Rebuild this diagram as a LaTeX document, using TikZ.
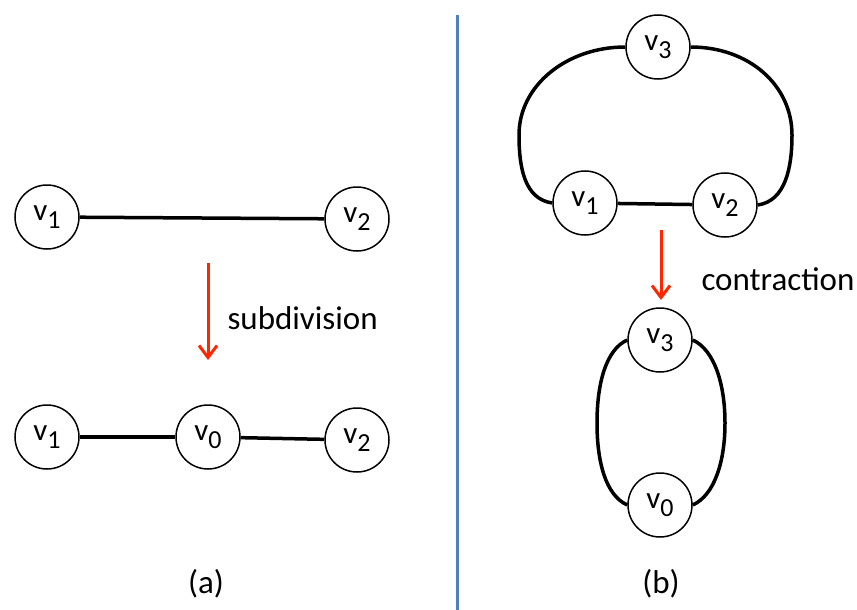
\documentclass[tikz,border=0pt]{standalone}
\usepackage{fontspec}
\setmainfont{Carlito}
\usetikzlibrary{arrows.meta}
\usepackage{xcolor}
\definecolor{arrowred}{RGB}{255,38,0}
\definecolor{divblue}{RGB}{79,129,189}
\newcommand{\vtx}[1]{v\raisebox{-8pt}{\fontsize{26}{26}\selectfont #1}}

\begin{document}
\begin{tikzpicture}[x=1pt, y=-1pt,
  vertex/.style={circle, draw, line width=1.5pt, minimum size=64pt, inner sep=0pt, fill=white, font=\fontsize{31}{33}\selectfont},
  edge/.style={line width=3.5pt},
  morph/.style={arrowred, line width=3pt, -{Straight Barb[length=12pt,width=18pt]}},
  caption/.style={font=\fontsize{33}{38}\selectfont},
]
  \useasboundingbox (0,0) rectangle (857,610);

  % (a) subdivision
  \node[vertex] (a1) at (47,217)  {\vtx{1}};
  \node[vertex] (a2) at (357,219) {\vtx{2}};
  \node[vertex] (s1) at (47,437)  {\vtx{1}};
  \node[vertex] (s0) at (208,437) {\vtx{0}};
  \node[vertex] (s2) at (357,440) {\vtx{2}};
  \draw[edge] (a1) -- (a2);
  \draw[edge] (s1) -- (s0);
  \draw[edge] (s0) -- (s2);

  \coordinate (subtop) at (208,263);
  \coordinate (subbot) at (208,360);
  \draw[morph] (subtop) -- (subbot);
  \node[caption, anchor=west] (sublab) at (224,318) {subdivision};
  \node[caption] (capa) at (206,584) {(a)};

  % divider
  \coordinate (divtop) at (457,15);
  \coordinate (divbot) at (457,610);
  \draw[divblue, line width=3pt] (divtop) -- (divbot);

  % (b) contraction
  \node[vertex] (b3) at (658,47)  {\vtx{3}};
  \node[vertex] (b1) at (585,203) {\vtx{1}};
  \node[vertex] (b2) at (725,205) {\vtx{2}};
  \draw[edge] (b1) -- (b2);
  \draw[edge] (b1.west) .. controls +(-28,-4) and +(0,32) .. (519,135)
                        .. controls +(0,-50) and +(-58,0) .. (b3.west);
  \draw[edge] (b2.east) .. controls +(28,-4) and +(0,32) .. (792,135)
                        .. controls +(0,-50) and +(58,0) .. (b3.east);

  \coordinate (contop) at (661,230);
  \coordinate (conbot) at (661,300);
  \draw[morph] (contop) -- (conbot);
  \node[caption, anchor=west] (conlab) at (698,279) {contraction};

  \node[vertex] (c3) at (660,340) {\vtx{3}};
  \node[vertex] (c0) at (660,505) {\vtx{0}};
  \draw[edge] (c3.west) .. controls +(-22,10) and +(0,-38) .. (597,423)
                        .. controls +(0,38) and +(-22,-10) .. (c0.west);
  \draw[edge] (c3.east) .. controls +(22,10) and +(0,-38) .. (725,423)
                        .. controls +(0,38) and +(22,-10) .. (c0.east);
  \node[caption] (capb) at (661,584) {(b)};
\end{tikzpicture}
\end{document}
